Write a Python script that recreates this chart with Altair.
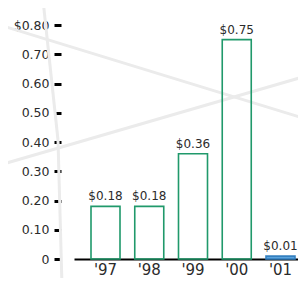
import altair as alt
import pandas as pd

years = ["'97", "'98", "'99", "'00", "'01"]
values = [0.18, 0.18, 0.36, 0.75, 0.01]
labels = ["$0.18", "$0.18", "$0.36", "$0.75", "$0.01"]
highlight = ["past", "past", "past", "past", "current"]
y_ticks = [0, 0.1, 0.2, 0.3, 0.4, 0.5, 0.6, 0.7, 0.8]

df = pd.DataFrame({"year": years, "value": values, "label": labels, "kind": highlight})
one = pd.DataFrame({"a": [0]})

FONT = "DejaVu Sans"
TXT = "#2b2b2b"

x_enc = alt.X("year:N", sort=years,
              scale=alt.Scale(paddingInner=0.337, paddingOuter=0.2286, align=0.85),
              axis=alt.Axis(title=None, labelAngle=0, ticks=False, domainColor="black",
                            domainWidth=2, labelFontSize=15, labelColor=TXT,
                            labelFont=FONT, labelPadding=3))
y_enc = alt.Y("value:Q", scale=alt.Scale(domain=[0, 0.8], nice=False),
              axis=alt.Axis(title=None, values=y_ticks, grid=False, domain=False,
                            tickColor="black", tickSize=7, tickWidth=3, offset=13,
                            labelPadding=5, labelFontSize=12.5, labelColor=TXT,
                            labelFont=FONT, labelOverlap=False, labelBound=False,
                            labelExpr="datum.value >= 0.79 ? '$0.80' : (datum.value == 0 ? '0' : format(datum.value, '.2f'))"))

def deco(x1, y1, x2, y2):
    return alt.Chart(one).mark_rule(color="#ebebeb", strokeWidth=3).encode(
        x=alt.value(x1), y=alt.value(y1), x2=alt.value(x2), y2=alt.value(y2))

decos = [
    deco(-74, 0, 232, 94),
    deco(-74, 140, 232, 51),
    deco(-31, -25, -16, 115),
    deco(-16, 115, -12, 261),
]

bars = alt.Chart(df).mark_bar(strokeWidth=1.6).encode(
    x=x_enc, y=y_enc,
    fill=alt.Color("kind:N", scale=alt.Scale(domain=["past", "current"], range=["transparent", "#5ba3dc"]), legend=None),
    stroke=alt.Stroke("kind:N", scale=alt.Scale(domain=["past", "current"], range=["#20996b", "#3480c0"]), legend=None),
)

text = alt.Chart(df).mark_text(baseline="bottom", dy=-3, fontSize=12, color=TXT, font=FONT).encode(
    x=x_enc, y=y_enc, text="label:N")

chart = alt.layer(*decos, bars, text).properties(
    width=224, height=234,
    background="white",
    autosize=alt.AutoSizeParams(type="none"),
    padding={"left": 66, "top": 17, "right": 0, "bottom": 19},
).configure_view(strokeWidth=0)

chart.save("out.html", embed_options={"renderer": "svg", "actions": False})
